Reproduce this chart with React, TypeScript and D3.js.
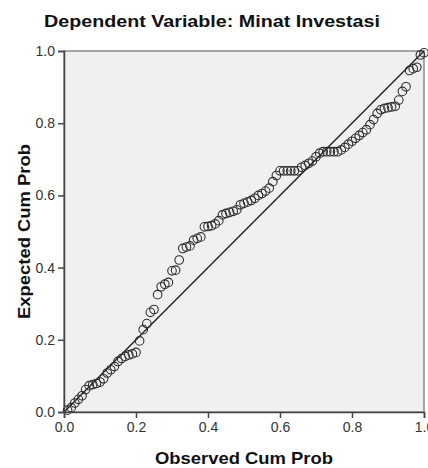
import React, { useEffect, useRef } from "react";
import * as d3 from "d3";

// Normal P-P plot of regression standardized residual
const observed = [
  0.01, 0.02, 0.03, 0.04, 0.05, 0.06, 0.07, 0.08, 0.09, 0.1,
  0.11, 0.12, 0.13, 0.14, 0.15, 0.16, 0.17, 0.18, 0.19, 0.2,
  0.21, 0.22, 0.23, 0.24, 0.25, 0.26, 0.27, 0.28, 0.29, 0.3,
  0.31, 0.32, 0.33, 0.34, 0.35, 0.36, 0.37, 0.38, 0.39, 0.4,
  0.41, 0.42, 0.43, 0.44, 0.45, 0.46, 0.47, 0.48, 0.49, 0.5,
  0.51, 0.52, 0.53, 0.54, 0.55, 0.56, 0.57, 0.58, 0.59, 0.6,
  0.61, 0.62, 0.63, 0.64, 0.65, 0.66, 0.67, 0.68, 0.69, 0.7,
  0.71, 0.72, 0.73, 0.74, 0.75, 0.76, 0.77, 0.78, 0.79, 0.8,
  0.81, 0.82, 0.83, 0.84, 0.85, 0.86, 0.87, 0.88, 0.89, 0.9,
  0.91, 0.92, 0.93, 0.94, 0.95, 0.96, 0.97, 0.98, 0.99, 1.0,
];

const expected = [
  0.005, 0.012, 0.025, 0.035, 0.045, 0.062, 0.073, 0.076, 0.079, 0.083,
  0.092, 0.108, 0.117, 0.126, 0.14, 0.148, 0.154, 0.158, 0.161, 0.165,
  0.197, 0.228, 0.245, 0.276, 0.284, 0.325, 0.347, 0.354, 0.359, 0.391,
  0.393, 0.421, 0.453, 0.457, 0.46, 0.476, 0.481, 0.485, 0.513, 0.514,
  0.516, 0.521, 0.53, 0.546, 0.55, 0.553, 0.556, 0.56, 0.574, 0.578,
  0.582, 0.586, 0.592, 0.6, 0.605, 0.612, 0.62, 0.638, 0.655, 0.668,
  0.668, 0.668, 0.668, 0.668, 0.668, 0.678, 0.683, 0.689, 0.695, 0.707,
  0.717, 0.721, 0.721, 0.721, 0.721, 0.721, 0.726, 0.733, 0.742, 0.75,
  0.758, 0.766, 0.774, 0.782, 0.796, 0.81, 0.827, 0.837, 0.841, 0.843,
  0.845, 0.847, 0.864, 0.888, 0.901, 0.946, 0.951, 0.955, 0.989, 0.995,
];

const ticks = [0, 0.2, 0.4, 0.6, 0.8, 1.0];

const title = "Dependent Variable: Minat Investasi";
const xTitle = "Observed Cum Prob";
const yTitle = "Expected Cum Prob";

export default function App() {
  const svgRef = useRef<SVGSVGElement>(null);

  useEffect(() => {
    document.body.style.margin = "0";
    const width = 428;
    const height = 468;
    const margin = { top: 51, right: 4, bottom: 56, left: 64 };

    const svg = d3.select(svgRef.current);
    svg.selectAll("*").remove();
    svg.attr("width", width).attr("height", height);

    const x = d3.scaleLinear().domain([0, 1]).range([margin.left, width - margin.right]);
    const y = d3.scaleLinear().domain([0, 1]).range([height - margin.bottom, margin.top]);

    const font = "'Liberation Sans', Arial, sans-serif";

    svg.append("rect")
      .attr("width", width)
      .attr("height", height)
      .attr("fill", "#ffffff");

    // plot background
    svg.append("rect")
      .attr("x", x(0))
      .attr("y", y(1))
      .attr("width", x(1) - x(0))
      .attr("height", y(0) - y(1))
      .attr("fill", "#f0f0f0")
      .attr("stroke", "#8a8a8a")
      .attr("stroke-width", 1.5);

    // reference line
    svg.append("line")
      .attr("x1", x(0))
      .attr("y1", y(0))
      .attr("x2", x(1))
      .attr("y2", y(1))
      .attr("stroke", "#222")
      .attr("stroke-width", 1.4);

    // points
    svg.append("g")
      .selectAll("circle")
      .data(observed.map((o, i) => [o, expected[i]]))
      .enter()
      .append("circle")
      .attr("cx", d => x(d[0]))
      .attr("cy", d => y(d[1]))
      .attr("r", 4.3)
      .attr("fill", "none")
      .attr("stroke", "#2e2e2e")
      .attr("stroke-width", 1.1);

    const fmt = d3.format(".1f");

    const xAxis = svg.append("g")
      .attr("transform", `translate(0,${y(0)})`)
      .call(d3.axisBottom(x).tickValues(ticks).tickFormat(d => fmt(d as number)).tickSize(6).tickPadding(4));
    const yAxis = svg.append("g")
      .attr("transform", `translate(${x(0)},0)`)
      .call(d3.axisLeft(y).tickValues(ticks).tickFormat(d => fmt(d as number)).tickSize(6).tickPadding(3));

    [xAxis, yAxis].forEach(g => {
      g.select(".domain").attr("stroke", "#444").attr("stroke-width", 1.5);
      g.selectAll(".tick line").attr("stroke", "#444").attr("stroke-width", 1.5);
      g.selectAll(".tick text")
        .attr("fill", "#333")
        .style("font-family", font)
        .style("font-size", "14px");
    });

    svg.append("text")
      .attr("x", 212)
      .attr("y", 27)
      .attr("text-anchor", "middle")
      .attr("textLength", 336)
      .attr("lengthAdjust", "spacingAndGlyphs")
      .style("font-family", font)
      .style("font-size", "17px")
      .style("font-weight", "bold")
      .attr("fill", "#111")
      .text(title);

    svg.append("text")
      .attr("x", (x(0) + x(1)) / 2)
      .attr("y", 464)
      .attr("text-anchor", "middle")
      .attr("textLength", 178)
      .attr("lengthAdjust", "spacingAndGlyphs")
      .style("font-family", font)
      .style("font-size", "17px")
      .style("font-weight", "bold")
      .attr("fill", "#111")
      .text(xTitle);

    svg.append("text")
      .attr("transform", `translate(30,${(y(0) + y(1)) / 2}) rotate(-90)`)
      .attr("text-anchor", "middle")
      .attr("textLength", 175)
      .attr("lengthAdjust", "spacingAndGlyphs")
      .style("font-family", font)
      .style("font-size", "17px")
      .style("font-weight", "bold")
      .attr("fill", "#111")
      .text(yTitle);
  }, []);

  return <svg ref={svgRef} style={{ display: "block" }}></svg>;
}
